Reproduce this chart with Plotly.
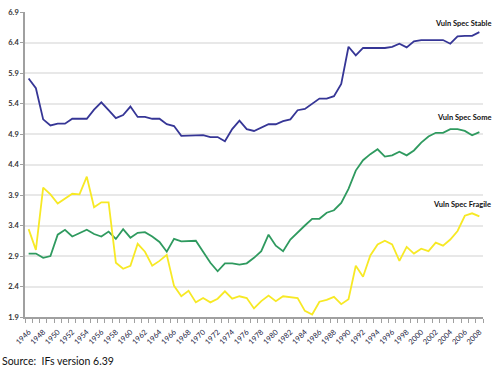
import plotly.graph_objects as go

years = list(range(1946, 2009))

stable = [5.81, 5.65, 5.14, 5.04, 5.07, 5.07, 5.15, 5.15, 5.15, 5.30,
          5.42, 5.29, 5.16, 5.21, 5.35, 5.18, 5.18, 5.15, 5.15, 5.06,
          5.03, 4.87, 4.87, 4.88, 4.88, 4.85, 4.85, 4.78, 4.98, 5.12,
          4.98, 4.95, 5.01, 5.06, 5.06, 5.11, 5.14, 5.29, 5.31, 5.40,
          5.48, 5.48, 5.52, 5.72, 6.33, 6.19, 6.31, 6.31, 6.31, 6.31,
          6.33, 6.38, 6.32, 6.42, 6.44, 6.44, 6.44, 6.44, 6.38, 6.50,
          6.51, 6.51, 6.57]

some = [2.94, 2.94, 2.87, 2.90, 3.25, 3.33, 3.22, 3.28, 3.33, 3.26,
        3.22, 3.30, 3.18, 3.34, 3.20, 3.28, 3.29, 3.22, 3.13, 2.97,
        3.18, 3.14, 3.15, 3.15, 2.97, 2.79, 2.65, 2.78, 2.78, 2.76,
        2.78, 2.87, 2.98, 3.25, 3.07, 2.98, 3.17, 3.29, 3.40, 3.51,
        3.51, 3.61, 3.65, 3.77, 4.00, 4.30, 4.47, 4.57, 4.65, 4.53,
        4.55, 4.61, 4.55, 4.63, 4.76, 4.86, 4.92, 4.92, 4.98, 4.98,
        4.95, 4.88, 4.93]

fragile = [3.34, 3.00, 4.02, 3.91, 3.76, 3.84, 3.92, 3.91, 4.20, 3.70,
           3.78, 3.78, 2.79, 2.69, 2.74, 3.10, 2.97, 2.74, 2.82, 2.92,
           2.41, 2.24, 2.33, 2.14, 2.21, 2.14, 2.20, 2.32, 2.20, 2.24,
           2.21, 2.04, 2.16, 2.25, 2.16, 2.24, 2.23, 2.21, 2.00, 1.94,
           2.15, 2.18, 2.23, 2.11, 2.19, 2.74, 2.56, 2.91, 3.09, 3.15,
           3.09, 2.82, 3.05, 2.94, 3.02, 2.98, 3.12, 3.07, 3.17, 3.31,
           3.56, 3.60, 3.55]

series_names = ["Vuln Spec Stable", "Vuln Spec Some", "Vuln Spec Fragile"]
y_ticks = [1.9, 2.4, 2.9, 3.4, 3.9, 4.4, 4.9, 5.4, 5.9, 6.4, 6.9]
x_tick_years = years[::2]
source_text = "Source:  IFs version 6.39"

colors = ["#363696", "#2f9a5f", "#f7e925"]

fig = go.Figure()
for name, vals, col in zip(series_names, [stable, some, fragile], colors):
    fig.add_trace(go.Scatter(x=years, y=vals, mode="lines", name=name,
                             line=dict(color=col, width=1.8),
                             hoverinfo="skip"))

label_y = [6.71, 5.17, 3.75]
for name, ly in zip(series_names, label_y):
    fig.add_annotation(x=1.022, xref="paper", y=ly, yref="y", text="<b>" + name + "</b>",
                       showarrow=False, xanchor="right", yanchor="middle",
                       font=dict(family="Lato", size=7.5, color="#111"))

fig.add_annotation(x=-0.0546, xref="paper", y=-0.1447, yref="paper", text=source_text,
                   showarrow=False, xanchor="left", yanchor="middle",
                   font=dict(family="Lato", size=10.5, color="#111"))

boundaries = [y - 0.5 for y in years] + [years[-1] + 0.5]

fig.update_layout(
    width=497, height=369,
    margin=dict(l=25, r=14, t=8, b=52),
    paper_bgcolor="white", plot_bgcolor="white",
    showlegend=False,
    xaxis=dict(
        range=[years[0] - 0.5, years[-1] + 0.5],
        tickvals=x_tick_years, ticktext=[str(v) for v in x_tick_years],
        tickangle=-45, ticks="", showgrid=False, zeroline=False,
        showline=True, linecolor="#a0a0a0", linewidth=1.5,
        ticklabelstandoff=6,
        tickfont=dict(family="Lato", size=7.5, color="#1a1a40"),
        minor=dict(tickvals=boundaries, ticks="outside", ticklen=4,
                   tickcolor="#a0a0a0", tickwidth=1, showgrid=False),
    ),
    yaxis=dict(
        range=[1.9, 6.9], tickvals=y_ticks,
        ticktext=["<b>%.1f</b>" % v for v in y_ticks],
        ticks="outside", ticklen=3, tickcolor="#a0a0a0",
        showline=True, linecolor="#a0a0a0", linewidth=1.5,
        showgrid=True, gridcolor="#e8e8e8", gridwidth=1.5, zeroline=False,
        tickfont=dict(family="Lato", size=7.5, color="#333"),
    ),
)

fig.write_html("out.html", config={"displayModeBar": False},
               post_script="document.body.style.margin='0px';document.body.style.padding='0px';")
